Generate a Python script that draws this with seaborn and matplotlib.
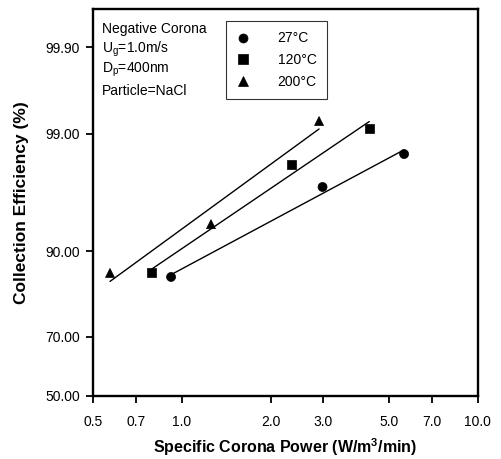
import numpy as np
import pandas as pd
import matplotlib
matplotlib.use("Agg")
import matplotlib.pyplot as plt
from matplotlib.ticker import FixedLocator, FixedFormatter, NullLocator
import seaborn as sns

# Measured collection efficiency vs specific corona power
temps = ["27°C", "120°C", "200°C"]
power_27 = [0.92, 2.99, 5.64]
eff_27 = [85.4, 96.8, 98.4]
power_120 = [0.79, 2.34, 4.30]
eff_120 = [86.2, 98.0, 99.12]
power_200 = [0.572, 1.255, 2.91]
eff_200 = [86.2, 93.6, 99.26]

x_ticks = [0.5, 0.7, 1.0, 2.0, 3.0, 5.0, 7.0, 10.0]
x_tick_labels = ["0.5", "0.7", "1.0", "2.0", "3.0", "5.0", "7.0", "10.0"]
y_ticks = [50.0, 70.0, 90.0, 99.0, 99.9]
y_tick_labels = ["50.00", "70.00", "90.00", "99.00", "99.90"]

info_lines = ["Negative Corona", r"U$_g$=1.0m/s", r"D$_p$=400nm", "Particle=NaCl"]


# ---- probability (probit) axis helpers ----
_A = [-3.969683028665376e+01, 2.209460984245205e+02, -2.759285104469687e+02,
      1.383577518672690e+02, -3.066479806614716e+01, 2.506628277459239e+00]
_B = [-5.447609879822406e+01, 1.615858368580409e+02, -1.556989798598866e+02,
      6.680131188771972e+01, -1.328068155288572e+01]
_C = [-7.784894002430293e-03, -3.223964580411365e-01, -2.400758277161838e+00,
      -2.549732539343734e+00, 4.374664141464968e+00, 2.938163982698783e+00]
_D = [7.784695709041462e-03, 3.224671290700398e-01, 2.445134137142996e+00,
      3.754408661907416e+00]


def _ndtri(p):
    p = np.clip(np.asarray(p, dtype=float), 1e-12, 1 - 1e-12)
    out = np.empty_like(p)
    plow = 0.02425
    lo = p < plow
    hi = p > 1 - plow
    mid = ~(lo | hi)
    q = np.sqrt(-2 * np.log(p[lo]))
    out[lo] = ((((((_C[0]*q + _C[1])*q + _C[2])*q + _C[3])*q + _C[4])*q + _C[5]) /
               ((((_D[0]*q + _D[1])*q + _D[2])*q + _D[3])*q + 1))
    q = p[mid] - 0.5
    r = q * q
    out[mid] = ((((((_A[0]*r + _A[1])*r + _A[2])*r + _A[3])*r + _A[4])*r + _A[5]) * q /
                (((((_B[0]*r + _B[1])*r + _B[2])*r + _B[3])*r + _B[4])*r + 1))
    q = np.sqrt(-2 * np.log(1 - p[hi]))
    out[hi] = -((((((_C[0]*q + _C[1])*q + _C[2])*q + _C[3])*q + _C[4])*q + _C[5]) /
                ((((_D[0]*q + _D[1])*q + _D[2])*q + _D[3])*q + 1))
    return out


_erf = np.vectorize(__import__("math").erf)


def pct_to_z(pct):
    return _ndtri(np.asarray(pct, dtype=float) / 100.0)


def z_to_pct(z):
    z = np.asarray(z, dtype=float)
    return 100.0 * 0.5 * (1 + _erf(z / np.sqrt(2)))


# ---- data table ----
df = pd.DataFrame({
    "power": power_27 + power_120 + power_200,
    "eff": eff_27 + eff_120 + eff_200,
    "temp": [temps[0]] * 3 + [temps[1]] * 3 + [temps[2]] * 3,
})

sns.set_style("ticks")
plt.rcParams["font.family"] = ["Liberation Sans", "DejaVu Sans"]
plt.rcParams["mathtext.default"] = "regular"
plt.rcParams["text.color"] = "black"
plt.rcParams["axes.labelcolor"] = "black"

fig = plt.figure(figsize=(5.01, 4.59), dpi=100)
ax = fig.add_axes([92.7 / 501, 1 - 395.7 / 459, 385 / 501, 386.7 / 459])

ax.set_xscale("log")
ax.set_yscale("function", functions=(pct_to_z, z_to_pct))

markers = {temps[0]: "o", temps[1]: "s", temps[2]: "^"}
sns.scatterplot(data=df, x="power", y="eff", style="temp", markers=markers,
                style_order=temps, color="black", s=42, edgecolor="black",
                linewidth=0.5, ax=ax, zorder=3)

# Least-squares lines in log(power) / probit(efficiency) space
for t in temps:
    sub = df[df["temp"] == t]
    lx = np.log10(sub["power"].to_numpy())
    lz = pct_to_z(sub["eff"].to_numpy())
    slope, icpt = np.polyfit(lx, lz, 1)
    xs = np.array([lx.min(), lx.max()])
    ax.plot(10 ** xs, z_to_pct(slope * xs + icpt), color="black", lw=1.0, zorder=2)

ax.set_xlim(0.5, 10.0)
ax.set_ylim(50.0, 99.97)

ax.xaxis.set_major_locator(FixedLocator(x_ticks))
ax.xaxis.set_major_formatter(FixedFormatter(x_tick_labels))
ax.xaxis.set_minor_locator(NullLocator())
ax.yaxis.set_major_locator(FixedLocator(y_ticks))
ax.yaxis.set_major_formatter(FixedFormatter(y_tick_labels))
ax.yaxis.set_minor_locator(NullLocator())

ax.tick_params(axis="both", direction="out", length=5, width=1.3,
               labelsize=10, color="black", labelcolor="black")
ax.tick_params(axis="x", pad=9)
ax.tick_params(axis="y", pad=4)

for sp in ax.spines.values():
    sp.set_visible(True)
    sp.set_linewidth(1.7)
    sp.set_color("black")

ax.set_xlabel("Specific Corona Power (W/m$^3$/min)", fontsize=11.5,
              fontweight="bold", labelpad=5)
ax.set_ylabel("Collection Efficiency (%)", fontsize=12.5, fontweight="bold",
              labelpad=12)

# Experimental conditions
for i, line in enumerate(info_lines):
    ax.text(0.024, 0.948 - i * 0.053, line, transform=ax.transAxes,
            fontsize=10, va="center", ha="left", color="black")

handles, labels = ax.get_legend_handles_labels()
pairs = [(h, l) for h, l in zip(handles, labels) if l in temps]
leg = ax.legend([p[0] for p in pairs], [p[1] for p in pairs],
                loc="upper left", bbox_to_anchor=(0.345, 0.969),
                frameon=True, fancybox=False, edgecolor="black",
                fontsize=10, handletextpad=2.0, borderpad=0.75,
                labelspacing=0.55, handlelength=1.0, borderaxespad=0)
leg.get_frame().set_linewidth(0.8)
for txt in leg.get_texts():
    txt.set_color("black")

fig.savefig("out.png", dpi=100, facecolor="white")
